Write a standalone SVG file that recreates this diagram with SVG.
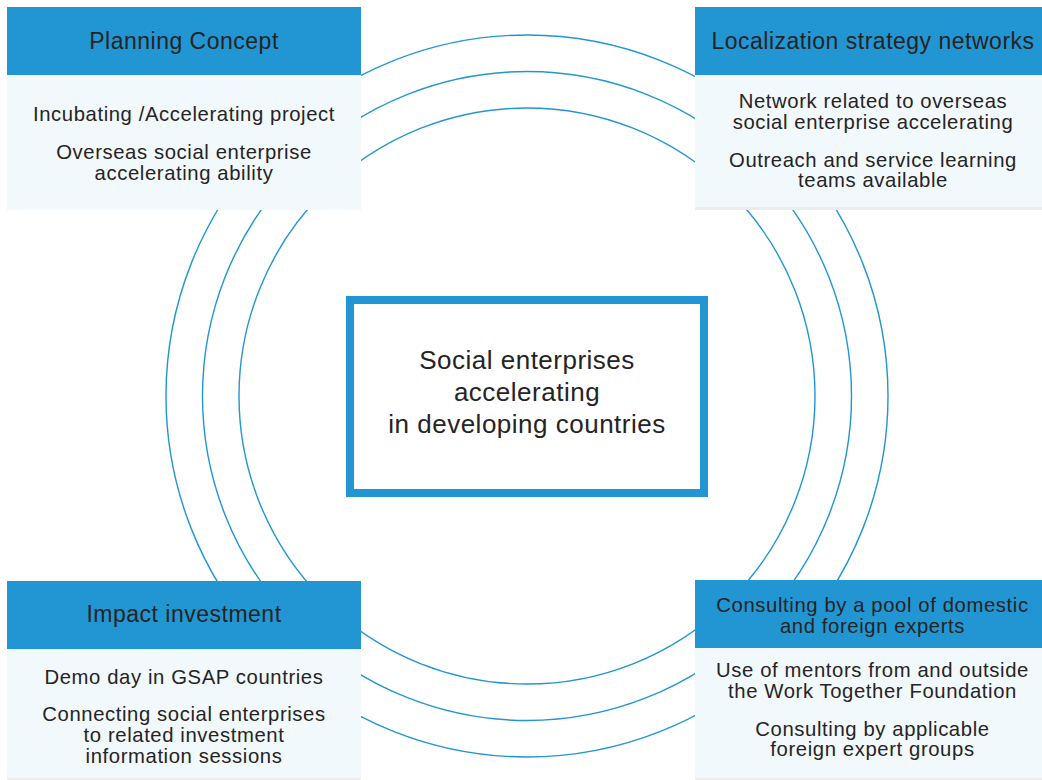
<svg xmlns="http://www.w3.org/2000/svg" width="1042" height="780" viewBox="0 0 1042 780">
<style>
.ring{fill:none;stroke:#2196d3;stroke-width:1.4}
.hdr{fill:#2196d3}
.body{fill:#f2f9fc}
.sep{fill:#ececec}
text{font-family:"Liberation Sans",Arial,sans-serif;fill:#262324;text-anchor:middle}
.h{font-size:23px;letter-spacing:0.5px}
.b{font-size:20.3px;letter-spacing:0.6px}
.c{font-size:26px;letter-spacing:0.5px}
</style>
<rect width="1042" height="780" fill="#ffffff"/>
<g id="connectors">
<circle class="ring" cx="527" cy="396" r="288"/>
<circle class="ring" cx="527" cy="396" r="324.5"/>
<circle class="ring" cx="527" cy="396" r="361"/>
</g>
<g id="planning-concept">
<rect class="hdr" x="7" y="7" width="354" height="68"/>
<rect class="body" x="7" y="75" width="354" height="135"/>
<text class="h" x="184" y="49">Planning Concept</text>
<text class="b" x="184" y="120.5">Incubating /Accelerating project</text>
<text class="b" x="184" y="158.5">Overseas social enterprise</text>
<text class="b" x="184" y="179.5">accelerating ability</text>
</g>
<g id="localization-strategy-networks">
<rect class="hdr" x="695" y="7" width="347" height="68"/>
<rect class="body" x="695" y="75" width="347" height="132"/>
<rect class="sep" x="695" y="207" width="347" height="3"/>
<text class="h" x="873" y="49">Localization strategy networks</text>
<text class="b" x="873" y="107.5">Network related to overseas</text>
<text class="b" x="873" y="128.5">social enterprise accelerating</text>
<text class="b" x="873" y="166.5">Outreach and service learning</text>
<text class="b" x="873" y="187">teams available</text>
</g>
<g id="impact-investment">
<rect class="hdr" x="7" y="581" width="354" height="68"/>
<rect class="body" x="7" y="649" width="354" height="129"/>
<rect class="sep" x="7" y="778" width="354" height="2"/>
<text class="h" x="184" y="621.5">Impact investment</text>
<text class="b" x="184" y="684">Demo day in GSAP countries</text>
<text class="b" x="184" y="720.5">Connecting social enterprises</text>
<text class="b" x="184" y="741.5">to related investment</text>
<text class="b" x="184" y="762.5">information sessions</text>
</g>
<g id="consulting">
<rect class="hdr" x="695" y="580" width="347" height="68"/>
<rect class="body" x="695" y="648" width="347" height="130"/>
<rect class="sep" x="695" y="778" width="347" height="2"/>
<text class="b" x="872.5" y="611.5">Consulting by a pool of domestic</text>
<text class="b" x="872.5" y="632.5">and foreign experts</text>
<text class="b" x="872.5" y="676.5">Use of mentors from and outside</text>
<text class="b" x="872.5" y="698">the Work Together Foundation</text>
<text class="b" x="872.5" y="735.5">Consulting by applicable</text>
<text class="b" x="872.5" y="756">foreign expert groups</text>
</g>
<g id="center">
<rect x="350" y="300" width="354" height="193" fill="#ffffff" stroke="#2196d3" stroke-width="8"/>
<text class="c" x="527" y="369">Social enterprises</text>
<text class="c" x="527" y="401">accelerating</text>
<text class="c" x="527" y="433">in developing countries</text>
</g>
</svg>
